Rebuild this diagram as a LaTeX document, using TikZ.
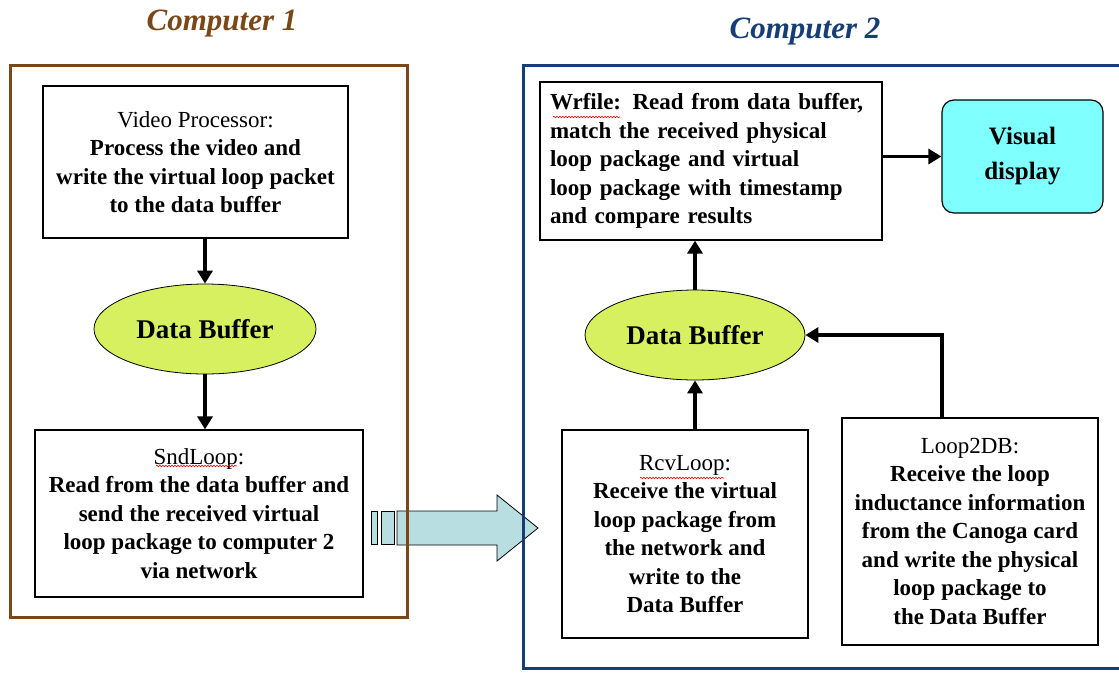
\documentclass[tikz,border=0pt]{standalone}
\usepackage{fontspec}
\setmainfont{Liberation Serif}
\usetikzlibrary{arrows.meta,shapes.geometric,decorations.pathmorphing}

\definecolor{compbrown}{RGB}{122,72,24}
\definecolor{compblue}{RGB}{22,62,118}
\definecolor{bufgreen}{RGB}{214,240,96}
\definecolor{dispcyan}{RGB}{128,255,255}
\definecolor{netblue}{RGB}{184,222,226}

\tikzset{
  procbox/.style={draw, line width=1.2pt, align=center, inner sep=0pt,
    font=\fontsize{23}{28.5}\selectfont\bfseries},
  buffer/.style={ellipse, draw, line width=0.8pt, fill=bufgreen,
    font=\fontsize{27}{30}\selectfont\bfseries},
  flow/.style={line width=3.6pt, -{Triangle[length=13pt,width=15pt]}},
  title/.style={font=\fontsize{31}{34}\selectfont\bfseries\itshape},
  spell/.style={red, line width=0.6pt, decorate,
    decoration={snake, amplitude=0.8pt, segment length=3pt}}
}
\newcommand{\hd}[1]{{\mdseries #1}}

\begin{document}
\begin{tikzpicture}[x=1pt, y=-1pt]
  \useasboundingbox (0,0) rectangle (1119,673);

  % computer 1
  \node[title, text=compbrown] (title1) at (222,24) {Computer 1};
  \node[procbox, minimum width=305pt, minimum height=152pt] (vidproc) at (195.5,162)
    {\hd{Video Processor:}\\Process the video and\\write the virtual loop packet\\to the data buffer};
  \node[buffer, minimum width=222pt, minimum height=90pt] (buf1) at (205,329) {Data Buffer};
  \node[procbox, minimum width=328pt, minimum height=167pt] (sndloop) at (199,513.5)
    {\hd{SndLoop:}\\Read from the data buffer and\\send the received virtual\\loop package to computer 2\\via network};

  % computer 2
  \node[title, text=compblue] (title2) at (805,32) {Computer 2};
  \node[procbox, align=left, text width=322pt, inner xsep=10pt, minimum height=158pt] (wrfile) at (711,161)
    {Wrfile: Read from data buffer,\\match the received physical\\loop package and virtual\\loop package with timestamp\\and compare results};
  \node[draw, line width=1.2pt, fill=dispcyan, rounded corners=12pt, align=center,
    minimum width=161pt, minimum height=113pt, font=\fontsize{25}{35}\selectfont\bfseries] (display) at (1022.5,156.5)
    {Visual\\display};
  \node[buffer, minimum width=220pt, minimum height=90pt] (buf2) at (695,335) {Data Buffer};
  \node[procbox, minimum width=246pt, minimum height=208pt] (rcvloop) at (685,534)
    {\hd{RcvLoop:}\\Receive the virtual\\loop package from\\the network and\\write to the\\Data Buffer};
  \node[procbox, minimum width=256pt, minimum height=227pt] (loop2db) at (970,531.5)
    {\hd{Loop2DB:}\\Receive the loop\\inductance information\\from the Canoga card\\and write the physical\\loop package to\\the Data Buffer};

  % flows
  \draw[flow] (vidproc.south -| buf1) -- (buf1.north);
  \draw[flow] (buf1.south) -- (buf1.south |- sndloop.north);
  \draw[flow] (buf2.north) -- (buf2.north |- wrfile.south);
  \draw[flow] (rcvloop.north -| buf2) -- (buf2.south);
  \draw[flow] ([xshift=-28pt]loop2db.north) |- (buf2.east);
  \draw[flow] (wrfile.east |- display.west) -- (display.west);

  % network transfer
  \draw[fill=netblue, line width=0.8pt] (371,511) rectangle (377,544);
  \draw[fill=netblue, line width=0.8pt] (381,511) rectangle (394,544);
  \draw[fill=netblue, line width=0.8pt] (397,511) -- (497,511) -- (497,495) -- (538,528)
    -- (497,561) -- (497,545) -- (397,545) -- cycle;

  % frames
  \draw[compbrown, line width=3pt] (10,65) rectangle (407,617);
  \draw[compblue, line width=3pt] (1125,65) -- (523,65) -- (523,668) -- (1125,668);

  % spelling marks
  \draw[spell] (553,117) -- (620,117);
  \draw[spell] (156,466) -- (237,466);
  \draw[spell] (640,478) -- (724,478);
\end{tikzpicture}
\end{document}
